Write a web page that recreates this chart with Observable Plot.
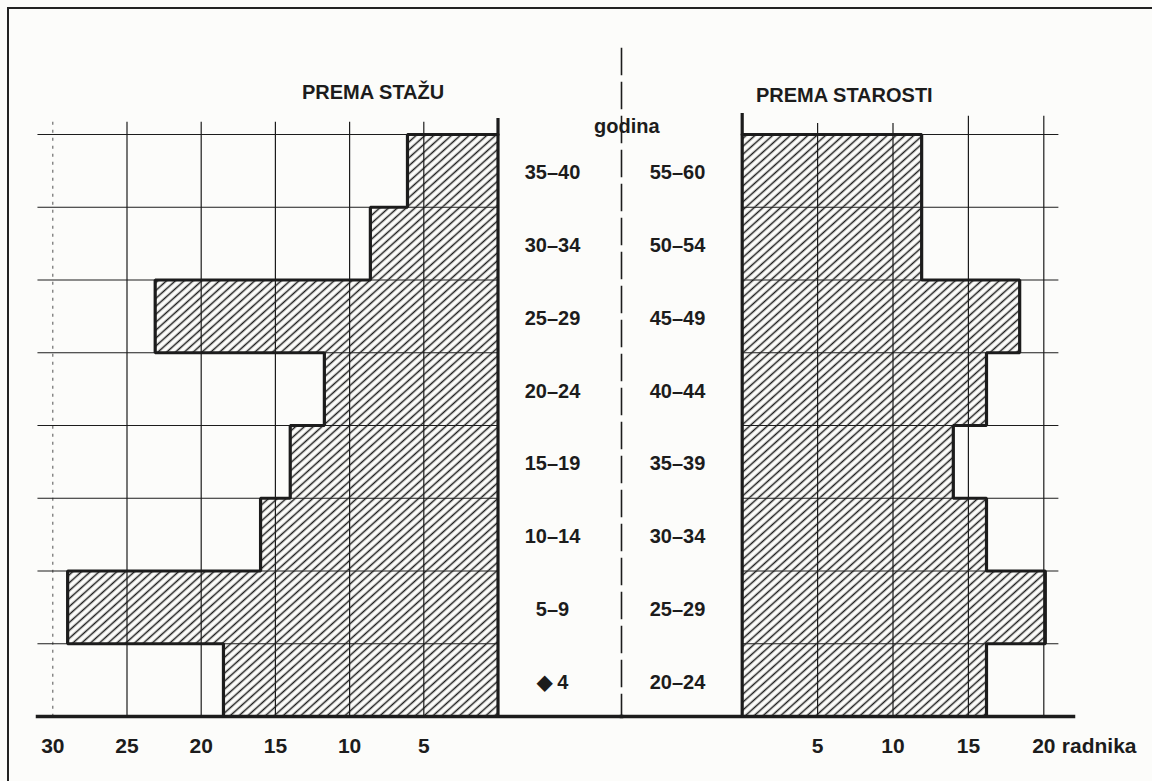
<!DOCTYPE html>
<html><head><meta charset="utf-8">
<script src="https://cdn.jsdelivr.net/npm/d3@7"></script>
<script src="https://cdn.jsdelivr.net/npm/@observablehq/plot@0.6"></script>
<style>
html,body{margin:0;padding:0;background:#fcfcfa;}
#wrap{position:relative;width:1152px;height:781px;overflow:hidden;background:#fcfcfa;font-family:"Liberation Sans",Arial,sans-serif;font-weight:bold;color:#1c1c1c;}
#border{position:absolute;left:7px;top:7px;width:1200px;height:800px;border-left:2px solid #222;border-top:2px solid #222;}
.t{position:absolute;white-space:nowrap;font-size:20px;line-height:20px;}
#wrap svg{position:absolute;top:0;overflow:visible;background:transparent;max-width:none;}
</style></head><body>
<div id="wrap">
<div id="border"></div>
<div class="t" style="left:302px;top:82px">PREMA STAŽU</div>
<div class="t" style="left:756px;top:85px">PREMA STAROSTI</div>
<div class="t" style="left:594px;top:116px">godina</div>
</div>
<script>
// ---- data ----
const stazLabels = ["35–40","30–34","25–29","20–24","15–19","10–14","5–9","◆ 4"];
const stazValues = [6.1, 8.6, 23.1, 11.7, 14.0, 16.0, 29.0, 18.5];
const starostLabels = ["55–60","50–54","45–49","40–44","35–39","30–34","25–29","20–24"];
const starostValues = [11.9, 11.9, 18.4, 16.2, 14.0, 16.2, 20.1, 16.2];
const stazTicks = [5, 10, 15, 20, 25, 30];
const starostTicks = [5, 10, 15, 20];
const unitLabel = "radnika";

const ink = "#1c1c1c";
const rows = d3.range(stazValues.length);
const rowCenters = rows.map(i => i + 0.5);

function hatch(id) {
  return () => {
    const defs = d3.create("svg:defs");
    const p = defs.append("pattern").attr("id", id)
      .attr("patternUnits", "userSpaceOnUse")
      .attr("width", 5.9).attr("height", 10)
      .attr("patternTransform", "rotate(48)");
    p.append("rect").attr("width", 5.9).attr("height", 10).attr("fill", "#fcfcfa");
    p.append("line").attr("x1", 1.5).attr("x2", 1.5).attr("y1", -1).attr("y2", 11)
      .attr("stroke", ink).attr("stroke-width", 1.5);
    return defs.node();
  };
}

function outline(values) {
  const pts = [{x: 0, y: 0}];
  values.forEach((v, i) => { pts.push({x: v, y: i}); pts.push({x: v, y: i + 1}); });
  return pts;
}

const font = {fontFamily: "Liberation Sans, Arial, sans-serif", fontSize: "20px", fontWeight: "bold", color: ink};

// ---- left chart: PREMA STAŽU ----
const left = Plot.plot({
  width: 621, height: 781,
  marginTop: 48, marginBottom: 65, marginLeft: 37, marginRight: 0,
  x: {domain: [0, 30], range: [497.5, 52.3]},
  y: {domain: [0, 8], range: [134, 716]},
  style: font,
  marks: [
    hatch("hatchL"),
    Plot.rect(rows, {x1: 0, x2: i => stazValues[i], y1: i => i, y2: i => i + 1, fill: "url(#hatchL)"}),
    Plot.ruleY(rows, {y: d => d, x1: 31, x2: 0, stroke: ink, strokeWidth: 1.2}),
    Plot.ruleX(stazTicks.filter(d => d < 30), {x: d => d, y1: -0.17, y2: 8, stroke: ink, strokeWidth: 1.2}),
    Plot.ruleX([30], {x: d => d, y1: -0.17, y2: 8, stroke: ink, strokeWidth: 1.1, strokeDasharray: "3,5", strokeOpacity: 0.7}),
    Plot.line(outline(stazValues), {x: "x", y: "y", stroke: ink, strokeWidth: 3.2, strokeLinejoin: "miter"}),
    Plot.ruleX([0], {y1: -0.22, y2: 8, stroke: ink, strokeWidth: 3.2}),
    Plot.frame({anchor: "bottom", stroke: ink, strokeWidth: 3.5}),
    Plot.frame({anchor: "right", stroke: ink, strokeWidth: 1.6, strokeDasharray: "26,8"}),
    Plot.axisX({ticks: stazTicks, tickSize: 0, tickPadding: 22, fontSize: 21, fontWeight: "bold", label: null}),
    Plot.axisY({anchor: "right", ticks: rowCenters, tickFormat: d => stazLabels[Math.floor(d)],
      tickSize: 0, tickPadding: 0, textAnchor: "middle", dx: -69, dy: 2, fontSize: 20, fontWeight: "bold",
      letterSpacing: 1.2, label: null})
  ]
});
left.style.left = "0px";

// ---- right chart: PREMA STAROSTI ----
const right = Plot.plot({
  width: 531, height: 781,
  marginTop: 48, marginBottom: 65, marginLeft: 0, marginRight: 79,
  x: {domain: [0, 20], range: [120.7, 422.3]},
  y: {domain: [0, 8], range: [134, 716]},
  style: font,
  marks: [
    hatch("hatchR"),
    Plot.rect(rows, {x1: 0, x2: i => starostValues[i], y1: i => i, y2: i => i + 1, fill: "url(#hatchR)"}),
    Plot.ruleY(rows, {y: d => d, x1: 0, x2: 21, stroke: ink, strokeWidth: 1.2}),
    Plot.ruleX(starostTicks.filter(d => d <= 10), {x: d => d, y1: -0.15, y2: 8, stroke: ink, strokeWidth: 1.2}),
    Plot.ruleX(starostTicks.filter(d => d > 10), {x: d => d, y1: -0.25, y2: 8, stroke: ink, strokeWidth: 1.2}),
    Plot.line(outline(starostValues), {x: "x", y: "y", stroke: ink, strokeWidth: 3.2, strokeLinejoin: "miter"}),
    Plot.ruleX([0], {y1: -0.29, y2: 8, stroke: ink, strokeWidth: 3.2}),
    Plot.frame({anchor: "bottom", stroke: ink, strokeWidth: 3.5}),
    Plot.axisX({ticks: starostTicks, tickSize: 0, tickPadding: 22, fontSize: 21, fontWeight: "bold", label: null}),
    Plot.text([unitLabel], {x: 20, y: 8, text: d => d, dx: 18, dy: 30, textAnchor: "start", fontSize: 21, fontWeight: "bold", fill: ink}),
    Plot.axisY({anchor: "left", ticks: rowCenters, tickFormat: d => starostLabels[Math.floor(d)],
      tickSize: 0, tickPadding: 0, textAnchor: "middle", dx: 56, dy: 2, fontSize: 20, fontWeight: "bold",
      letterSpacing: 1.2, label: null})
  ]
});
right.style.left = "621px";

const wrap = document.getElementById("wrap");
wrap.appendChild(left);
wrap.appendChild(right);
</script>
</body></html>
